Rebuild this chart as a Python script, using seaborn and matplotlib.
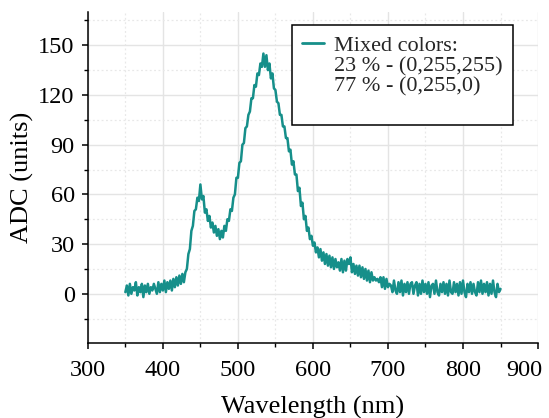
import glob
import numpy as np
import pandas as pd
import seaborn as sns
import matplotlib.pyplot as plt
from matplotlib import font_manager
from matplotlib.lines import Line2D
from matplotlib.ticker import MultipleLocator
from matplotlib.transforms import ScaledTranslation

sns.set_theme(style="ticks")

# make sure the Liberation Serif files are registered
serif_name = 'Liberation Serif'
for p in glob.glob('/usr/share/fonts/truetype/liberation*/LiberationSerif*.ttf'):
    font_manager.fontManager.addfont(p)
    if 'Regular' in p:
        serif_name = font_manager.fontManager.ttflist[-1].name
plt.rcParams['font.family'] = [serif_name, 'DejaVu Serif']

# wavelength grid (nm), 2 nm step
wavelength = list(range(350, 852, 2))

# ADC counts, 350..850 nm
adc = [
    1, 5, -1, 6, 0, 4, 2, 7, -1, 4,        # 350-368
    1, 6, -2, 5, 1, 6, 0, 4, 2, 6,         # 370-388
    3, 0, 7, 1, 6, 2, 8, 1, 7, 3,          # 390-408
    8, 2, 9, 4, 10, 5, 11, 6, 12, 7,       # 410-428
    13, 15, 24, 27, 38, 41, 50, 51, 58, 56,  # 430-448
    66, 57, 59, 49, 51, 44, 47, 40, 43, 37,  # 450-468
    41, 35, 39, 33, 38, 34, 41, 38, 45, 44,  # 470-488
    51, 50, 58, 60, 70, 70, 79, 80, 90, 91,  # 490-508
    100, 101, 108, 110, 118, 118, 126, 125, 133, 132,  # 510-528
    139, 137, 145, 137, 144, 135, 139, 130, 133, 124,  # 530-548
    123, 116, 115, 108, 108, 101, 101, 94, 94, 86,  # 550-568
    87, 78, 80, 72, 72, 62, 64, 53, 55, 45,  # 570-588
    47, 38, 40, 33, 35, 29, 31, 25, 28, 22,  # 590-608
    27, 20, 25, 18, 24, 17, 23, 16, 22, 15,  # 610-628
    21, 16, 19, 14, 21, 13, 20, 14, 21, 18,  # 630-648
    22, 13, 18, 12, 17, 11, 17, 10, 16, 9,   # 650-668
    15, 8, 14, 7, 13, 8, 10, 8, 9, 7,      # 670-688
    10, 4, 10, 3, 9, 4, 6, 5, 1, 8,        # 690-708
    2, 0, 7, 1, 8, -1, 6, 1, 7, 0,         # 710-728
    6, 7, 0, 5, 7, -1, 6, 0, 8, 1,         # 730-748
    6, 0, 7, -2, 5, 6, 0, 8, 1, -1,        # 750-768
    6, 1, 7, 0, 6, -1, 8, 1, 0, 7,         # 770-788
    1, 6, -1, 7, 0, 8, 1, -2, 6, 1,        # 790-808
    7, 0, 6, 1, -1, 7, 1, 8, 0, 6,         # 810-828
    1, 7, -1, 6, 0, 8, 1, -2, 6, 1,        # 830-848
    3,                                     # 850
]

legend_lines = ['Mixed colors:', '23 % - (0,255,255)', '77 % - (0,255,0)']
line_color = '#168f8a'

df = pd.DataFrame({'Wavelength': wavelength, 'ADC': adc})

fig, ax = plt.subplots(figsize=(5.49, 4.18), dpi=100)
fig.subplots_adjust(left=0.160, right=0.980, bottom=0.179, top=0.971)

sns.lineplot(data=df, x='Wavelength', y='ADC', color=line_color, lw=1.8, ax=ax)

ax.set_xlim(300, 900)
ax.set_ylim(-29.8, 170)
ax.xaxis.set_major_locator(MultipleLocator(100))
ax.xaxis.set_minor_locator(MultipleLocator(50))
ax.yaxis.set_major_locator(MultipleLocator(30))
ax.yaxis.set_minor_locator(MultipleLocator(15))

ax.grid(which='major', color='#e4e4e4', lw=1.0, ls='-')
ax.grid(which='minor', color='#e8e8e8', lw=0.9, ls=(0, (1.5, 2)))
ax.set_axisbelow(True)

sns.despine(ax=ax)
for s in ['left', 'bottom']:
    ax.spines[s].set_color('black')
    ax.spines[s].set_linewidth(1.1)
ax.tick_params(which='major', direction='out', length=4.5, width=1.1, color='black',
               labelsize=17.5, labelcolor='black')
ax.tick_params(which='minor', direction='out', length=3, width=1.0, color='black')
ax.tick_params(axis='x', which='major', pad=7.5)
ax.tick_params(axis='y', which='major', pad=5)

# last x label sits left of its tick so it stays inside the figure
fig.canvas.draw()
for lbl in ax.get_xticklabels():
    if lbl.get_text() == '900':
        lbl.set_horizontalalignment('right')
        lbl.set_transform(lbl.get_transform() + ScaledTranslation(0.04, 0, fig.dpi_scale_trans))

ax.set_xlabel('Wavelength (nm)', fontsize=19, color='black', labelpad=11)
ax.set_ylabel('ADC (units)', fontsize=19, color='black', labelpad=3)

handles = [Line2D([], [], color=line_color, lw=2),
           Line2D([], [], color='none'),
           Line2D([], [], color='none'),
           Line2D([], [], color='none')]
leg = ax.legend(handles, legend_lines + [' '], loc='upper right', bbox_to_anchor=(0.944, 0.961),
                fontsize=16, frameon=True, fancybox=False, labelspacing=0.0,
                handlelength=1.0, handletextpad=0.45, borderpad=0.45, borderaxespad=0)
leg.get_texts()[3].set_fontsize(9)
leg.get_frame().set_edgecolor('black')
leg.get_frame().set_linewidth(1.1)
leg.get_frame().set_alpha(1)

fig.savefig('out.png', dpi=100)
